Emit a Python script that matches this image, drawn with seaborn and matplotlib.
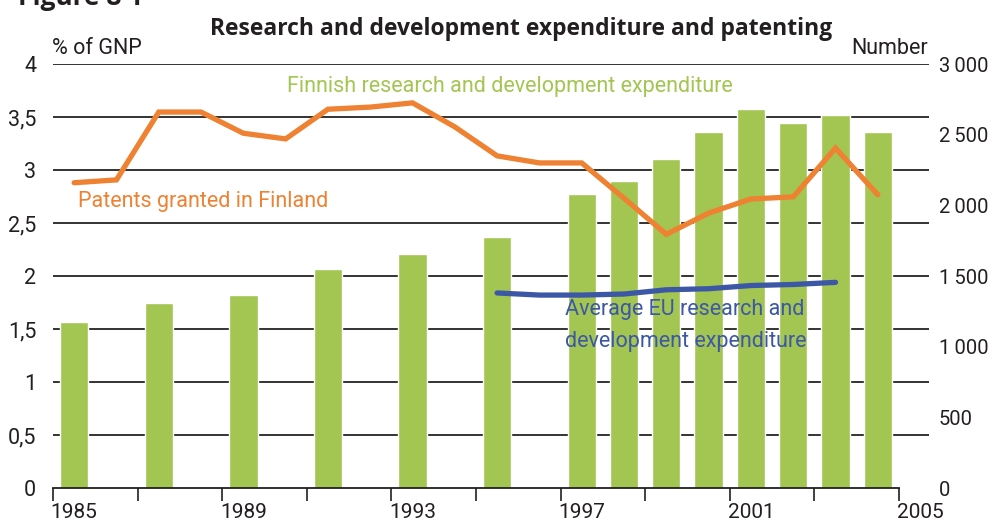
import matplotlib
matplotlib.use("Agg")
import matplotlib.pyplot as plt
import seaborn as sns
import pandas as pd
import numpy as np

# Finnish R&D expenditure, % of GNP
bar_years = [1985, 1987, 1989, 1991, 1993, 1995, 1997, 1998, 1999, 2000, 2001, 2002, 2003, 2004]
finland_rd = [1.57, 1.75, 1.82, 2.07, 2.21, 2.37, 2.77, 2.90, 3.10, 3.36, 3.58, 3.44, 3.52, 3.36]

# Patents granted in Finland, number
patent_years = list(range(1985, 2005))
patents = [2160, 2180, 2660, 2660, 2510, 2470, 2680, 2695, 2725, 2555,
           2350, 2300, 2300, 2050, 1795, 1945, 2045, 2060, 2405, 2075]

# Average EU R&D expenditure, % of GNP
eu_years = list(range(1995, 2004))
eu_rd = [1.84, 1.82, 1.82, 1.83, 1.87, 1.88, 1.91, 1.92, 1.94]

left_ticks = [0, 0.5, 1, 1.5, 2, 2.5, 3, 3.5, 4]
left_labels = ["0", "0,5", "1", "1,5", "2", "2,5", "3", "3,5", "4"]
right_ticks = [0, 500, 1000, 1500, 2000, 2500, 3000]
right_labels = ["0", "500", "1\u2009000", "1\u2009500", "2\u2009000", "2\u2009500", "3\u2009000"]
year_ticks = [1985, 1989, 1993, 1997, 2001, 2005]

GREEN = "#a3c552"
ORANGE = "#ef8132"
BLUE = "#3d57a7"
DARK = "#231f20"
GRID = "#333333"

sns.set_theme(style="white")
plt.rcParams["font.family"] = ["Roboto", "DejaVu Sans"]
FS = 15.5

W, H = 992, 526
fig = plt.figure(figsize=(W / 100, H / 100), dpi=100)
ax = fig.add_axes([53 / W, 1 - 488 / H, (929 - 53) / W, (488 - 64) / H])
ax2 = ax.twinx()

# horizontal gridlines behind the bars
for v in left_ticks[1:]:
    ax.axhline(v, color=GRID, lw=1.4, zorder=0)

bars = pd.DataFrame({"year": bar_years, "rd": finland_rd})
sns.barplot(data=bars, x="year", y="rd", native_scale=True, width=0.67,
            color=GREEN, saturation=1, errorbar=None, ax=ax, zorder=2)

eu = pd.DataFrame({"year": eu_years, "rd": eu_rd})
sns.lineplot(data=eu, x="year", y="rd", ax=ax, color=BLUE, lw=3.8,
             solid_capstyle="round", solid_joinstyle="round", zorder=4)

pat = pd.DataFrame({"year": patent_years, "n": patents})
sns.lineplot(data=pat, x="year", y="n", ax=ax2, color=ORANGE, lw=3.8,
             solid_capstyle="round", solid_joinstyle="miter", zorder=4)

ax.set_xlim(1984.5, 2005.21)
ax.set_ylim(0, 4)
ax2.set_ylim(0, 3000)

for a in (ax, ax2):
    a.set_xlabel("")
    a.set_ylabel("")
    for s in a.spines.values():
        s.set_visible(False)

ax.spines["bottom"].set_visible(True)
ax.spines["bottom"].set_color(DARK)
ax.spines["bottom"].set_linewidth(1.3)
ax.spines["bottom"].set_bounds(1984.5, 2004.5)

ax.set_xticks(year_ticks)
ax.set_xticklabels([str(y) for y in year_ticks])
ax.set_xticks(np.arange(1984.5, 2004.6, 2), minor=True)
ax.tick_params(axis="x", which="major", length=0, pad=11, labelsize=15, labelcolor=DARK)
ax.tick_params(axis="x", which="minor", length=9, width=1.2, color=DARK, direction="out", bottom=True)

ax.set_yticks(left_ticks)
ax.set_yticklabels(left_labels)
ax.tick_params(axis="y", length=0, pad=12, labelsize=FS, labelcolor=DARK)
ax2.set_yticks(right_ticks)
ax2.set_yticklabels(right_labels)
ax2.tick_params(axis="y", length=0, pad=7, labelsize=14.5, labelcolor=DARK)
for lbl in ax2.get_yticklabels():
    lbl.set_horizontalalignment("left")

# series labels
ax.text(1995.3, 3.79, "Finnish research and development expenditure",
        color=GREEN, fontsize=FS, ha="center", va="center")
ax.text(1985.1, 2.70, "Patents granted in Finland",
        color=ORANGE, fontsize=FS, ha="left", va="center")
ax.text(1996.6, 1.68, "Average EU research and",
        color=BLUE, fontsize=FS, ha="left", va="center")
ax.text(1996.6, 1.38, "development expenditure",
        color=BLUE, fontsize=FS, ha="left", va="center")

# axis unit captions and titles
fig.text(52 / W, 1 - 48 / H, "% of GNP", fontsize=FS, color=DARK, ha="left", va="center")
fig.text(928 / W, 1 - 48 / H, "Number", fontsize=FS, color=DARK, ha="right", va="center")
fig.text(521 / W, 1 - 29 / H, "Research and development expenditure and patenting",
         fontsize=16.5, fontweight="bold", color=DARK, ha="center", va="center",
         family=["Open Sans", "DejaVu Sans"])
fig.text(18 / W, 1 - 5 / H, "Figure 8 1", fontsize=19, fontweight="bold", color=DARK,
         ha="left", va="baseline", family=["Open Sans", "DejaVu Sans"])

fig.savefig("out.png", dpi=100)
